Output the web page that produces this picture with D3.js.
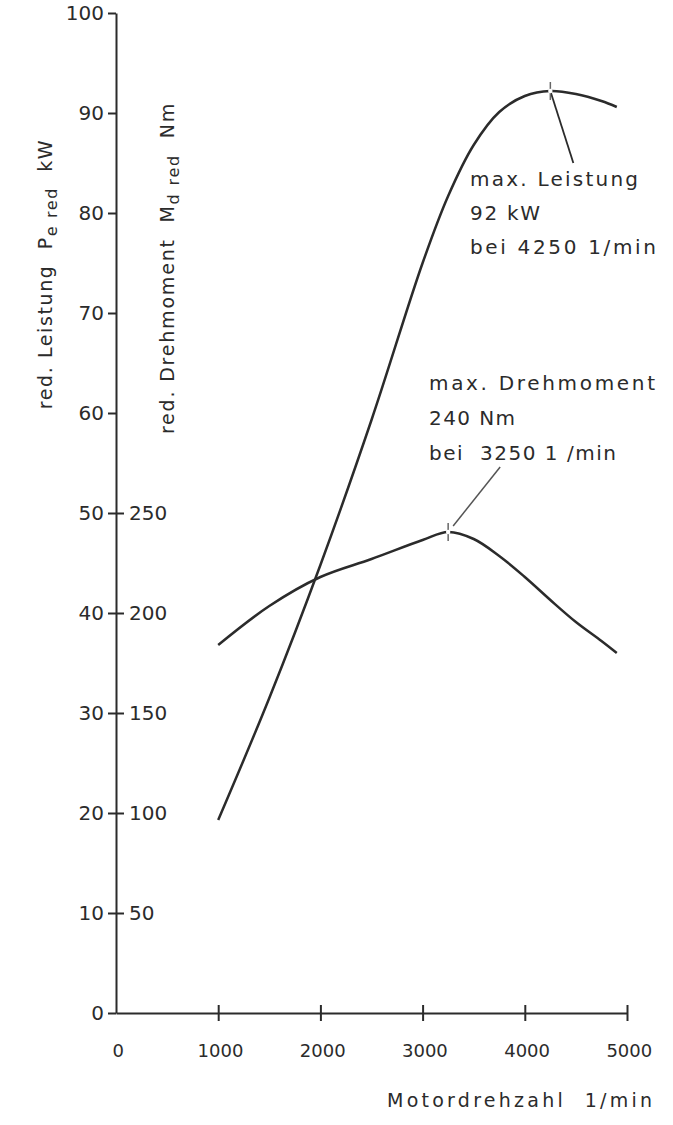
<!DOCTYPE html>
<meta charset="utf-8">
<head>
<style>
  body { margin: 0; background: #fff; }
  text { font-family: "DejaVu Sans", sans-serif; fill: #2b2b2b; white-space: pre; }
</style>
</head>
<body>
<script src="https://d3js.org/d3.v7.min.js"></script>
<script>

// chart data
var rpm       = [1000, 1500, 2000, 2500, 3000, 3250, 3500, 3750, 4000, 4250, 4500, 4750, 4900];
var leistung  = [19.3, 31.5, 44.8, 59.3, 75.0, 81.7, 86.8, 90.1, 91.7, 92.2, 91.9, 91.2, 90.6];
var drehmom   = [184, 203.5, 218, 227, 236.5, 240.5, 237, 228.5, 218, 206.5, 195.5, 186, 180];

var xTicks  = [0, 1000, 2000, 3000, 4000, 5000];
var kwTicks = [0, 10, 20, 30, 40, 50, 60, 70, 80, 90, 100];
var nmTicks = [50, 100, 150, 200, 250];

var maxP = {rpm: 4250, val: 92.2};
var maxM = {rpm: 3250, val: 240.5};

var width = 673, height = 1125;
var ink = "#2b2b2b";

var svg = d3.select("body").append("svg")
    .attr("width", width)
    .attr("height", height);

// scales (torque axis shares the frame: 500 Nm == 100 kW)
var x = d3.scaleLinear().domain([0, 5000]).range([116, 627]);
var y = d3.scaleLinear().domain([0, 100]).range([1013, 13]);
var yM = d3.scaleLinear().domain([0, 500]).range([1013, 13]);

var fmt = d3.format("d");

// left axis, kW
var axL = svg.append("g")
    .attr("transform", "translate(" + x(0) + ",0)")
    .call(d3.axisLeft(y).tickValues(kwTicks).tickFormat(fmt).tickSize(8).tickSizeOuter(0).tickPadding(4));

// right side ticks, Nm
var axR = svg.append("g")
    .attr("transform", "translate(" + x(0) + ",0)")
    .call(d3.axisRight(yM).tickValues(nmTicks).tickFormat(fmt).tickSize(8).tickPadding(5));
axR.select(".domain").remove();

// bottom axis, ticks crossing the line
var axB = svg.append("g")
    .attr("transform", "translate(0," + y(0) + ")")
    .call(d3.axisBottom(x).tickValues(xTicks).tickFormat(fmt).tickSize(8).tickSizeOuter(0).tickPadding(30));
axB.selectAll(".tick line").attr("y1", -8);
axB.selectAll(".tick").filter(function(d){ return d === 0; }).select("line").remove();

[axL, axR, axB].forEach(function(g){
  g.selectAll("path, line").attr("stroke", ink).attr("stroke-width", 2);
  g.selectAll("text")
    .style("font-family", "DejaVu Sans, sans-serif")
    .style("font-size", "20px")
    .attr("fill", ink);
});
axB.selectAll("text").style("font-size", "18px").attr("dy", "0.32em").attr("dx", "0.1em");

// curves
var line = d3.line().curve(d3.curveCatmullRom.alpha(0.5));

svg.append("path")
  .attr("d", line(rpm.map(function(r, i){ return [x(r), y(leistung[i])]; })))
  .attr("fill", "none").attr("stroke", ink).attr("stroke-width", 2.5);

svg.append("path")
  .attr("d", line(rpm.map(function(r, i){ return [x(r), yM(drehmom[i])]; })))
  .attr("fill", "none").attr("stroke", ink).attr("stroke-width", 2.5);

// peak markers and leader lines
function marker(px, py) {
  svg.append("line")
    .attr("x1", px).attr("x2", px).attr("y1", py - 9).attr("y2", py + 9)
    .attr("stroke", "#666").attr("stroke-width", 1.5);
  svg.append("circle").attr("cx", px).attr("cy", py).attr("r", 2.2).attr("fill", "#fff");
}

var pP = [x(maxP.rpm), y(maxP.val)];
var pM = [x(maxM.rpm), yM(maxM.val)];

svg.append("line")
  .attr("x1", pP[0]).attr("y1", pP[1]).attr("x2", pP[0] + 23).attr("y2", pP[1] + 72)
  .attr("stroke", ink).attr("stroke-width", 1.8);
svg.append("line")
  .attr("x1", pM[0] + 5).attr("y1", pM[1] - 6).attr("x2", pM[0] + 52).attr("y2", pM[1] - 65)
  .attr("stroke", "#555").attr("stroke-width", 1.5);
marker(pP[0], pP[1]);
marker(pM[0], pM[1]);

// annotations: [text, width in px]
function label(lines, lx, ly, step) {
  lines.forEach(function(t, i){
    svg.append("text")
      .attr("x", lx).attr("y", ly + i * step)
      .attr("dy", "0.35em")
      .attr("textLength", t[1])
      .attr("lengthAdjust", "spacing")
      .style("font-size", "20px")
      .text(t[0]);
  });
}
label([["max. Leistung", 168], ["92 kW", 70], ["bei 4250 1/min", 186]], 470, 179, 34);
label([["max. Drehmoment", 226], ["240 Nm", 86], ["bei  3250 1 /min", 187]], 429, 383, 35);

// axis titles
svg.append("text")
  .attr("x", 387).attr("y", 1100).attr("dy", "0.35em")
  .attr("textLength", 265)
  .attr("lengthAdjust", "spacing")
  .style("font-size", "19px")
  .text("Motordrehzahl  1/min");

var tP = svg.append("text")
  .attr("transform", "translate(52,274) rotate(-90)")
  .attr("text-anchor", "middle")
  .style("font-size", "19px")
  .style("letter-spacing", "1.6px");
tP.append("tspan").text("red. Leistung  P");
tP.append("tspan").attr("dy", 5).style("font-size", "16px").text("e red");
tP.append("tspan").attr("dy", -5).text("  kW");

var tM = svg.append("text")
  .attr("transform", "translate(174,268) rotate(-90)")
  .attr("text-anchor", "middle")
  .style("font-size", "19px")
  .style("letter-spacing", "1.8px");
tM.append("tspan").text("red. Drehmoment  M");
tM.append("tspan").attr("dy", 5).style("font-size", "16px").text("d red");
tM.append("tspan").attr("dy", -5).text("  Nm");

</script>
</body>
